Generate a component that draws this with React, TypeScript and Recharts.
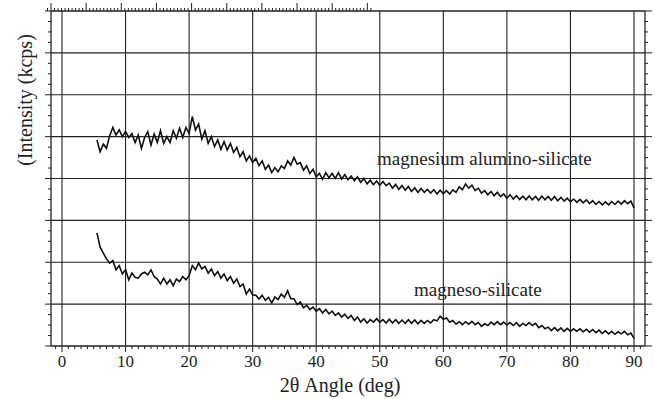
import React from "react";
import {
  LineChart,
  Line,
  XAxis,
  YAxis,
  ReferenceLine,
} from "recharts";

// 2θ angles, 0.5 deg steps, 10 per row
const angles = [
  5.5, 6, 6.5, 7, 7.5, 8, 8.5, 9, 9.5, 10,
  10.5, 11, 11.5, 12, 12.5, 13, 13.5, 14, 14.5, 15,
  15.5, 16, 16.5, 17, 17.5, 18, 18.5, 19, 19.5, 20,
  20.5, 21, 21.5, 22, 22.5, 23, 23.5, 24, 24.5, 25,
  25.5, 26, 26.5, 27, 27.5, 28, 28.5, 29, 29.5, 30,
  30.5, 31, 31.5, 32, 32.5, 33, 33.5, 34, 34.5, 35,
  35.5, 36, 36.5, 37, 37.5, 38, 38.5, 39, 39.5, 40,
  40.5, 41, 41.5, 42, 42.5, 43, 43.5, 44, 44.5, 45,
  45.5, 46, 46.5, 47, 47.5, 48, 48.5, 49, 49.5, 50,
  50.5, 51, 51.5, 52, 52.5, 53, 53.5, 54, 54.5, 55,
  55.5, 56, 56.5, 57, 57.5, 58, 58.5, 59, 59.5, 60,
  60.5, 61, 61.5, 62, 62.5, 63, 63.5, 64, 64.5, 65,
  65.5, 66, 66.5, 67, 67.5, 68, 68.5, 69, 69.5, 70,
  70.5, 71, 71.5, 72, 72.5, 73, 73.5, 74, 74.5, 75,
  75.5, 76, 76.5, 77, 77.5, 78, 78.5, 79, 79.5, 80,
  80.5, 81, 81.5, 82, 82.5, 83, 83.5, 84, 84.5, 85,
  85.5, 86, 86.5, 87, 87.5, 88, 88.5, 89, 89.5, 90,
];

// magnesium alumino-silicate (arbitrary grid units)
const aluminoSilicate = [
  4.92, 4.64, 4.82, 4.72, 5.02, 5.22, 5.04, 5.16, 5.0, 5.12,
  4.98, 5.07, 4.86, 5.04, 4.72, 4.98, 5.12, 4.8, 5.06, 4.86,
  5.14, 4.84, 5.0, 4.86, 5.14, 4.96, 5.2, 4.98, 5.22, 5.08,
  5.48, 5.16, 5.3, 4.94, 5.14, 4.84, 5.0, 4.76, 4.92, 4.7,
  4.88, 4.68, 4.84, 4.62, 4.74, 4.52, 4.64, 4.42, 4.54, 4.38,
  4.48, 4.31, 4.42, 4.22, 4.32, 4.14, 4.26, 4.16, 4.3, 4.24,
  4.42, 4.32, 4.5, 4.34, 4.38, 4.2, 4.3, 4.12, 4.22, 4.04,
  4.12, 3.98, 4.14, 4.02, 4.12, 4.0, 4.14, 3.99, 4.09, 3.97,
  4.06, 3.95, 4.04, 3.91, 4.0, 3.87, 3.96, 3.85, 3.94, 3.84,
  3.93, 3.83, 3.89, 3.77, 3.86, 3.74, 3.83, 3.72, 3.81, 3.69,
  3.78, 3.67, 3.76, 3.67, 3.74, 3.65, 3.73, 3.63, 3.72, 3.64,
  3.71, 3.63, 3.73, 3.67, 3.8, 3.73, 3.87, 3.77, 3.84, 3.71,
  3.77, 3.65, 3.71, 3.61, 3.69, 3.59, 3.67, 3.57, 3.63, 3.53,
  3.61, 3.51, 3.59, 3.5, 3.58, 3.49, 3.58, 3.49, 3.57, 3.48,
  3.58, 3.49, 3.57, 3.48, 3.57, 3.47, 3.55, 3.46, 3.53, 3.44,
  3.51, 3.43, 3.5, 3.42, 3.49, 3.4, 3.47, 3.38, 3.45, 3.37,
  3.44, 3.37, 3.45, 3.38, 3.46, 3.39, 3.47, 3.4, 3.46, 3.3,
];

// magneso-silicate
const magnesoSilicate = [
  2.7, 2.36, 2.22, 2.08, 1.98, 2.04, 1.82, 1.92, 1.72, 1.82,
  1.58, 1.74, 1.64, 1.62, 1.72, 1.76, 1.7, 1.82, 1.66, 1.6,
  1.48, 1.62, 1.48, 1.58, 1.44, 1.6, 1.54, 1.66, 1.58, 1.68,
  1.92, 1.82, 1.98, 1.84, 1.9, 1.74, 1.84, 1.68, 1.78, 1.62,
  1.72, 1.56, 1.66, 1.5, 1.6, 1.42, 1.48, 1.24, 1.36, 1.22,
  1.21, 1.12, 1.21, 1.09, 1.16, 1.03, 1.17, 1.11, 1.24, 1.16,
  1.32, 1.13, 1.13, 0.99, 1.05, 0.91, 0.97, 0.87, 0.93, 0.83,
  0.89, 0.79, 0.87, 0.77, 0.83, 0.73, 0.79, 0.69, 0.76, 0.66,
  0.73, 0.61, 0.69, 0.57, 0.65, 0.55, 0.63, 0.57, 0.65, 0.57,
  0.63, 0.55, 0.64, 0.55, 0.63, 0.54, 0.62, 0.54, 0.63, 0.54,
  0.62, 0.53, 0.61, 0.54, 0.61, 0.55, 0.63, 0.6, 0.71, 0.64,
  0.67, 0.57, 0.61, 0.52, 0.58, 0.51, 0.58, 0.52, 0.59, 0.51,
  0.56, 0.47, 0.53, 0.49, 0.57, 0.51, 0.58, 0.51, 0.57, 0.5,
  0.56, 0.49, 0.56, 0.47, 0.54, 0.49, 0.56, 0.49, 0.54, 0.44,
  0.49, 0.41, 0.45, 0.37, 0.44, 0.36, 0.43, 0.35, 0.42, 0.35,
  0.41, 0.35, 0.41, 0.34, 0.4, 0.33, 0.39, 0.32, 0.38, 0.3,
  0.36, 0.29, 0.35, 0.28, 0.34, 0.29, 0.35, 0.27, 0.31, 0.18,
];

const xMajorTicks = [0, 10, 20, 30, 40, 50, 60, 70, 80, 90];
const yGridLevels = [1, 2, 3, 4, 5, 6, 7];

const xMinorTicks = Array.from({ length: 93 }, (_, i) => i - 1);
const yTicks = Array.from({ length: 33 }, (_, i) => i * 0.25);

const data = angles.map((a, i) => ({
  angle: a,
  alumino: aluminoSilicate[i],
  magneso: magnesoSilicate[i],
}));

const INK = "#222";
const FONT = "'Liberation Serif', 'DejaVu Serif', serif";

const BottomTick = (props: any) => {
  const { x, y, payload } = props;
  const v = payload.value;
  const major = v % 10 === 0;
  return (
    <g>
      <line x1={x} x2={x} y1={y} y2={y + (major ? 6 : 3)} stroke={INK} strokeWidth={1} />
      {major && (
        <text x={x} y={y + 21} textAnchor="middle" fontSize={17} style={{ fontFamily: FONT }} fill={INK}>
          {v}
        </text>
      )}
    </g>
  );
};

const TopTick = (props: any) => {
  const { x, y, payload } = props;
  const major = payload.value % 10 === 0;
  return <line x1={x} x2={x} y1={y} y2={y - (major ? 8 : 3)} stroke={INK} strokeWidth={1} />;
};

const LeftTick = (props: any) => {
  const { x, y, payload } = props;
  const major = Number.isInteger(payload.value);
  return <line x1={x} x2={x - (major ? 6 : 3)} y1={y} y2={y} stroke={INK} strokeWidth={1} />;
};

const RightTick = (props: any) => {
  const { x, y, payload } = props;
  const major = Number.isInteger(payload.value);
  return <line x1={x} x2={x + (major ? 7 : 3)} y1={y} y2={y} stroke={INK} strokeWidth={1} />;
};

const textStyle = (size: number): React.CSSProperties => ({
  position: "absolute",
  whiteSpace: "nowrap",
  fontFamily: FONT,
  fontSize: size,
  lineHeight: size + "px",
});

export default function App() {
  return (
    <div
      style={{
        position: "absolute",
        left: 0,
        top: 0,
        width: 655,
        height: 399,
        background: "#fff",
        fontFamily: FONT,
        color: INK,
      }}
    >
      <LineChart width={655} height={399} data={data} margin={{ top: 0, right: 0, bottom: 0, left: 0 }}>
        <XAxis
          dataKey="angle"
          type="number"
          domain={[-1.73, 91.73]}
          allowDataOverflow
          ticks={xMinorTicks}
          interval={0}
          height={53}
          tickSize={0}
          tickMargin={0}
          tickLine={false}
          axisLine={{ stroke: INK, strokeWidth: 1.3 }}
          tick={BottomTick}
        />
        <XAxis
          xAxisId="top"
          orientation="top"
          type="number"
          domain={[-1.73, 91.73]}
          allowDataOverflow
          ticks={xMinorTicks}
          interval={0}
          height={11}
          tickSize={0}
          tickMargin={0}
          tickLine={false}
          axisLine={{ stroke: INK, strokeWidth: 1.3 }}
          tick={TopTick}
        />
        <YAxis
          type="number"
          domain={[0, 8]}
          allowDataOverflow
          ticks={yTicks}
          interval={0}
          width={51}
          tickSize={0}
          tickMargin={0}
          tickLine={false}
          axisLine={{ stroke: INK, strokeWidth: 1.3 }}
          tick={LeftTick}
        />
        <YAxis
          yAxisId="right"
          orientation="right"
          type="number"
          domain={[0, 8]}
          allowDataOverflow
          ticks={yTicks}
          interval={0}
          width={10}
          tickSize={0}
          tickMargin={0}
          tickLine={false}
          axisLine={{ stroke: INK, strokeWidth: 1.3 }}
          tick={RightTick}
        />
        {yGridLevels.map((v) => (
          <ReferenceLine key={"h" + v} y={v} stroke={INK} strokeWidth={1.2} />
        ))}
        {xMajorTicks.map((v) => (
          <ReferenceLine key={"v" + v} x={v} stroke={INK} strokeWidth={1.1} />
        ))}
        <Line
          type="linear"
          dataKey="alumino"
          stroke="#111"
          strokeWidth={1.6}
          dot={false}
          isAnimationActive={false}
        />
        <Line
          type="linear"
          dataKey="magneso"
          stroke="#111"
          strokeWidth={1.6}
          dot={false}
          isAnimationActive={false}
        />
      </LineChart>

      <div style={{ ...textStyle(20), left: 25, top: 100, transform: "translate(-50%, -50%) rotate(-90deg)" }}>
        (Intensity (kcps)
      </div>
      <div style={{ ...textStyle(20), left: 340, top: 385, transform: "translate(-50%, -50%)" }}>
        2θ Angle (deg)
      </div>
      <div style={{ ...textStyle(19), left: 377, top: 158, transform: "translateY(-50%)" }}>
        magnesium alumino-silicate
      </div>
      <div style={{ ...textStyle(19), left: 414, top: 289, transform: "translateY(-50%)" }}>
        magneso-silicate
      </div>
    </div>
  );
}
